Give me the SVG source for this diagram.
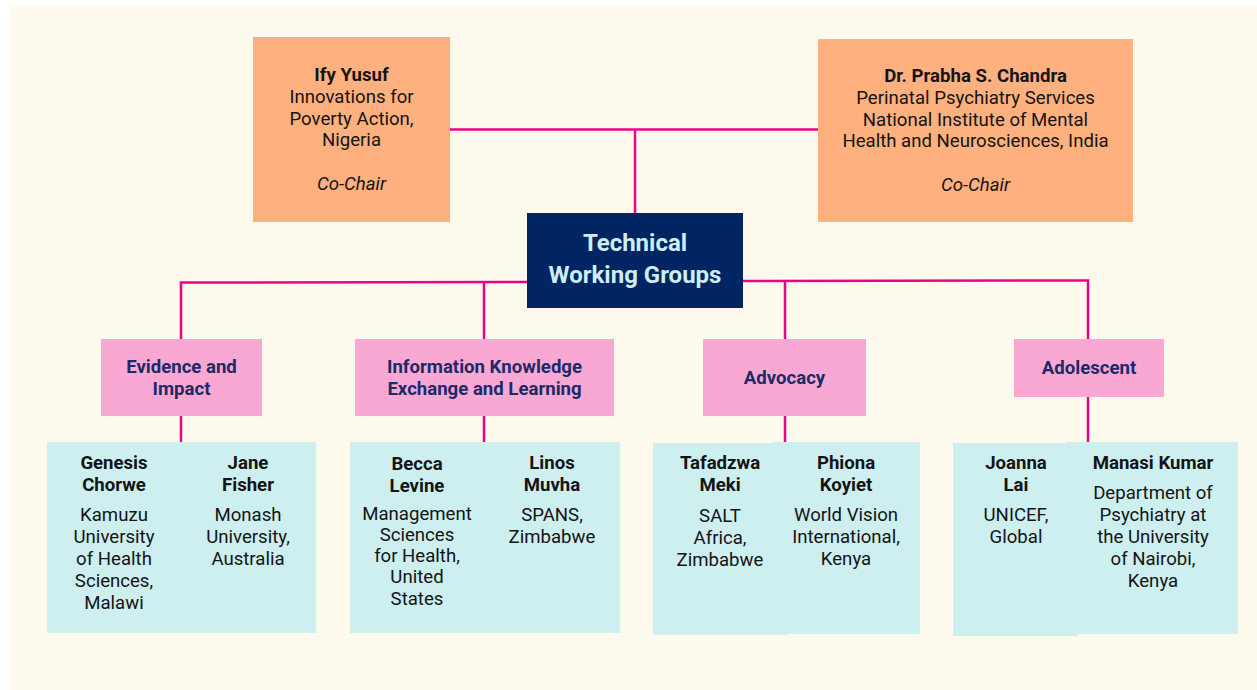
<svg xmlns="http://www.w3.org/2000/svg" width="1257" height="690" viewBox="0 0 1257 690">
<style>
text{font-family:Roboto,"Liberation Sans",sans-serif;text-anchor:middle}
.t{font-size:18.6px;fill:#141414}
.b{font-weight:bold}
.i{font-style:italic}
.chair{fill:#FFB07F}
.grp{fill:#F9A8D3}
.gt{font-size:18.6px;font-weight:bold;fill:#1B2A68}
.leaf{fill:#CDEFF0}
.con{stroke:#EC008C;stroke-width:2.5;fill:none}
</style>
<rect x="0" y="0" width="1257" height="690" fill="#ffffff"/>
<rect x="10" y="7" width="1247" height="683" fill="#FEF9ED"/>
<g id="connectors">
<line class="con" x1="450" y1="129.5" x2="818" y2="129.5"/>
<line class="con" x1="635" y1="129.5" x2="635" y2="213"/>
<polyline class="con" points="181,339 181,282.5 527,282"/>
<line class="con" x1="484" y1="282.5" x2="484" y2="339"/>
<polyline class="con" points="743,281 1088,280.5 1088,339"/>
<line class="con" x1="785" y1="281" x2="785" y2="339"/>
<line class="con" x1="181" y1="416" x2="181" y2="442"/>
<line class="con" x1="484" y1="416" x2="484" y2="442"/>
<line class="con" x1="785" y1="416" x2="785" y2="442"/>
<line class="con" x1="1088" y1="397" x2="1088" y2="442"/>
</g>
<g id="ify">
<rect class="chair" x="253" y="37" width="197" height="185"/>
<text class="t b" x="351.5" y="81">Ify Yusuf</text>
<text class="t" x="351.5" y="103">Innovations for</text>
<text class="t" x="351.5" y="124.5">Poverty Action,</text>
<text class="t" x="351.5" y="146">Nigeria</text>
<text class="t i" x="351.5" y="190">Co-Chair</text>
</g>
<g id="chandra">
<rect class="chair" x="818" y="39" width="315" height="183"/>
<text class="t b" x="975.5" y="82">Dr. Prabha S. Chandra</text>
<text class="t" x="975.5" y="104">Perinatal Psychiatry Services</text>
<text class="t" x="975.5" y="125.5">National Institute of Mental</text>
<text class="t" x="975.5" y="147">Health and Neurosciences, India</text>
<text class="t i" x="975.5" y="191">Co-Chair</text>
</g>
<g id="twg">
<rect x="527" y="213" width="216" height="95" fill="#002562"/>
<text x="635" y="251" font-size="24" font-weight="bold" fill="#CDEEF2">Technical</text>
<text x="635" y="283" font-size="24" font-weight="bold" fill="#CDEEF2">Working Groups</text>
</g>
<g id="evidence">
<rect class="grp" x="101" y="339" width="161" height="77"/>
<text class="gt" x="181.5" y="373">Evidence and</text>
<text class="gt" x="181.5" y="395">Impact</text>
</g>
<g id="info">
<rect class="grp" x="355" y="339" width="259" height="77"/>
<text class="gt" x="484.5" y="373">Information Knowledge</text>
<text class="gt" x="484.5" y="395">Exchange and Learning</text>
</g>
<g id="advocacy">
<rect class="grp" x="703" y="339" width="163" height="77"/>
<text class="gt" x="784.5" y="384">Advocacy</text>
</g>
<g id="adolescent">
<rect class="grp" x="1014" y="339" width="150" height="58"/>
<text class="gt" x="1089" y="374">Adolescent</text>
</g>
<g id="evidence-members">
<rect class="leaf" x="47" y="442" width="269" height="191"/>
<text class="t b" x="114" y="469">Genesis</text>
<text class="t b" x="114" y="491">Chorwe</text>
<text class="t" x="114" y="521">Kamuzu</text>
<text class="t" x="114" y="543">University</text>
<text class="t" x="114" y="565">of Health</text>
<text class="t" x="114" y="587">Sciences,</text>
<text class="t" x="114" y="609">Malawi</text>
<text class="t b" x="248" y="469">Jane</text>
<text class="t b" x="248" y="491">Fisher</text>
<text class="t" x="248" y="521">Monash</text>
<text class="t" x="248" y="543">University,</text>
<text class="t" x="248" y="565">Australia</text>
</g>
<g id="info-members">
<rect class="leaf" x="350" y="442" width="270" height="191"/>
<text class="t b" x="417" y="470">Becca</text>
<text class="t b" x="417" y="492">Levine</text>
<text class="t" x="417" y="520">Management</text>
<text class="t" x="417" y="541">Sciences</text>
<text class="t" x="417" y="562">for Health,</text>
<text class="t" x="417" y="583">United</text>
<text class="t" x="417" y="605">States</text>
<text class="t b" x="552" y="469">Linos</text>
<text class="t b" x="552" y="491">Muvha</text>
<text class="t" x="552" y="521">SPANS,</text>
<text class="t" x="552" y="543">Zimbabwe</text>
</g>
<g id="advocacy-members">
<rect class="leaf" x="653" y="443" width="134" height="192"/>
<rect class="leaf" x="772" y="442" width="148" height="192"/>
<text class="t b" x="720" y="469">Tafadzwa</text>
<text class="t b" x="720" y="491">Meki</text>
<text class="t" x="720" y="522">SALT</text>
<text class="t" x="720" y="544">Africa,</text>
<text class="t" x="720" y="566">Zimbabwe</text>
<text class="t b" x="846" y="469">Phiona</text>
<text class="t b" x="846" y="491">Koyiet</text>
<text class="t" x="846" y="521">World Vision</text>
<text class="t" x="846" y="543">International,</text>
<text class="t" x="846" y="565">Kenya</text>
</g>
<g id="adolescent-members">
<rect class="leaf" x="953" y="443" width="125" height="193"/>
<rect class="leaf" x="1066" y="442" width="172" height="192"/>
<text class="t b" x="1016" y="469">Joanna</text>
<text class="t b" x="1016" y="491">Lai</text>
<text class="t" x="1016" y="521">UNICEF,</text>
<text class="t" x="1016" y="543">Global</text>
<text class="t b" x="1153" y="469">Manasi Kumar</text>
<text class="t" x="1153" y="499">Department of</text>
<text class="t" x="1153" y="521">Psychiatry at</text>
<text class="t" x="1153" y="543">the University</text>
<text class="t" x="1153" y="565">of Nairobi,</text>
<text class="t" x="1153" y="587">Kenya</text>
</g>
</svg>
